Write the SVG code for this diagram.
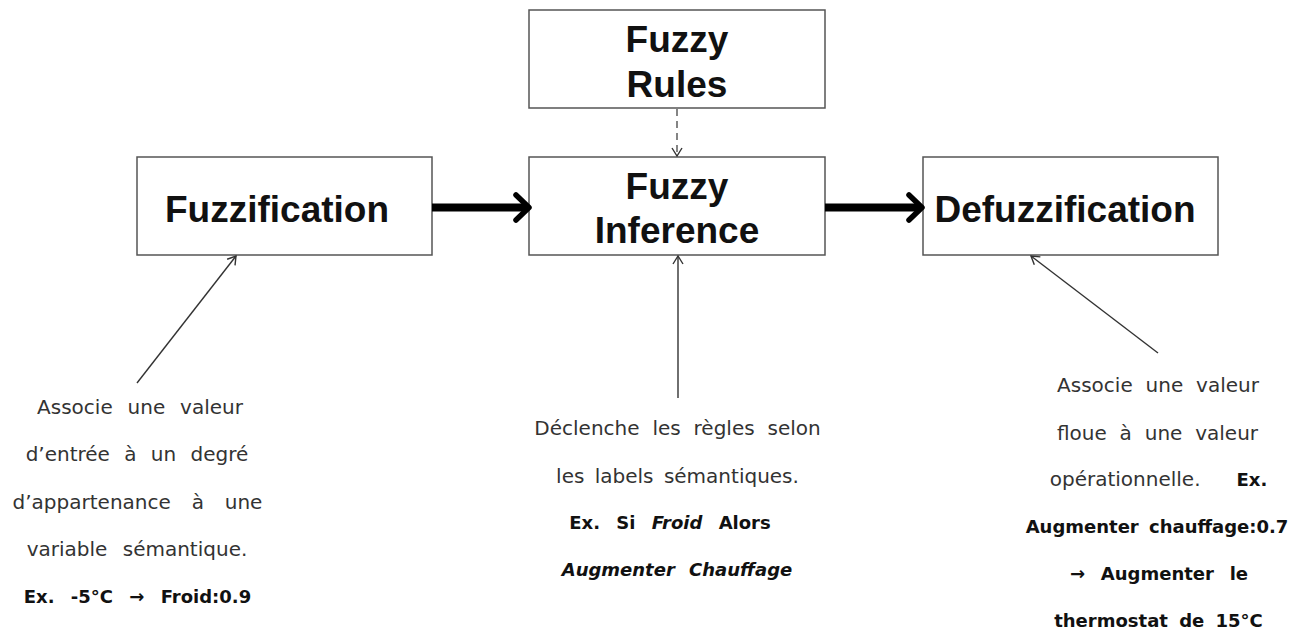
<svg xmlns="http://www.w3.org/2000/svg" width="1297" height="632" viewBox="0 0 1297 632">
<defs>
<style>
.box{fill:#fff;stroke:#555;stroke-width:1.5}
.title{font-family:"Liberation Sans",Arial,sans-serif;font-weight:bold;font-size:37px;fill:#111;text-anchor:middle}
.body{font-family:"DejaVu Sans",sans-serif;font-size:20px;fill:#333;text-anchor:middle}
.b{font-weight:bold;fill:#111;font-size:18px}
.i{font-style:italic}
.thick{fill:none;stroke:#000;stroke-width:8}
.head{fill:none;stroke:#000;stroke-width:5.5;stroke-linecap:round;stroke-linejoin:round}
.thin{fill:none;stroke:#333;stroke-width:1.4}
.dash{fill:none;stroke:#444;stroke-width:1.3;stroke-dasharray:7 5}
</style>
<marker id="openHead" viewBox="0 0 12 12" refX="11" refY="6" markerWidth="12" markerHeight="12" markerUnits="userSpaceOnUse" orient="auto">
<path d="M3,1 L11,6 L3,11" fill="none" stroke="#333" stroke-width="1.4"/>
</marker>
</defs>
<rect width="1297" height="632" fill="#fff"/>

<g id="fuzzy-rules">
<rect class="box" x="529" y="10" width="296" height="98"/>
<text class="title" x="677" y="52">Fuzzy</text>
<text class="title" x="677" y="97">Rules</text>
</g>

<g id="fuzzification">
<rect class="box" x="137" y="157" width="295" height="98"/>
<text class="title" x="277" y="222">Fuzzification</text>
</g>

<g id="fuzzy-inference">
<rect class="box" x="529" y="157" width="296" height="98"/>
<text class="title" x="677" y="199">Fuzzy</text>
<text class="title" x="677" y="243">Inference</text>
</g>

<g id="defuzzification">
<rect class="box" x="923" y="157" width="295" height="98"/>
<text class="title" x="1065" y="222">Defuzzification</text>
</g>

<g id="connectors">
<line class="thick" x1="432" y1="207.5" x2="526" y2="207.5"/>
<polyline class="head" points="516,195 529,207.5 516,220"/>
<line class="thick" x1="825" y1="207.5" x2="919" y2="207.5"/>
<polyline class="head" points="909,195 922,207.5 909,220"/>
<line class="dash" x1="677" y1="109" x2="677" y2="156" marker-end="url(#openHead)"/>
<line class="thin" x1="137" y1="383" x2="236" y2="256" marker-end="url(#openHead)"/>
<line class="thin" x1="678" y1="398" x2="678" y2="256" marker-end="url(#openHead)"/>
<line class="thin" x1="1158" y1="353" x2="1031" y2="256" marker-end="url(#openHead)"/>
</g>

<g id="note-fuzzification">
<text class="body" x="140" y="414" style="word-spacing:8.5px">Associe une valeur</text>
<text class="body" x="137" y="461" style="word-spacing:8px">d’entrée à un degré</text>
<text class="body" x="137.5" y="509" style="word-spacing:14.5px">d’appartenance à une</text>
<text class="body" x="137" y="556" style="word-spacing:9px">variable sémantique.</text>
<text class="body b" x="137.5" y="603" style="word-spacing:10px">Ex.   -5°C → Froid:0.9</text>
</g>

<g id="note-inference">
<text class="body" x="677.5" y="435" style="word-spacing:6.5px">Déclenche les règles selon</text>
<text class="body" x="677.5" y="483" style="word-spacing:4px">les labels sémantiques.</text>
<text class="body b" x="670" y="529" style="word-spacing:10px">Ex.  Si <tspan class="i">Froid</tspan> Alors</text>
<text class="body b i" x="677" y="576" style="word-spacing:8px">Augmenter Chauffage</text>
</g>

<g id="note-defuzzification">
<text class="body" x="1158" y="392" style="word-spacing:6.5px">Associe une valeur</text>
<text class="body" x="1157.5" y="440" style="word-spacing:6.5px">floue à une valeur</text>
<text class="body" x="1158.5" y="486">opérationnelle.<tspan class="b" dx="36">Ex.</tspan></text>
<text class="body b" x="1157" y="533" style="word-spacing:4px">Augmenter chauffage:0.7</text>
<text class="body b" x="1159" y="580" style="word-spacing:9.5px">→ Augmenter le</text>
<text class="body b" x="1158.5" y="627" style="word-spacing:5px">thermostat de 15°C</text>
</g>
</svg>
